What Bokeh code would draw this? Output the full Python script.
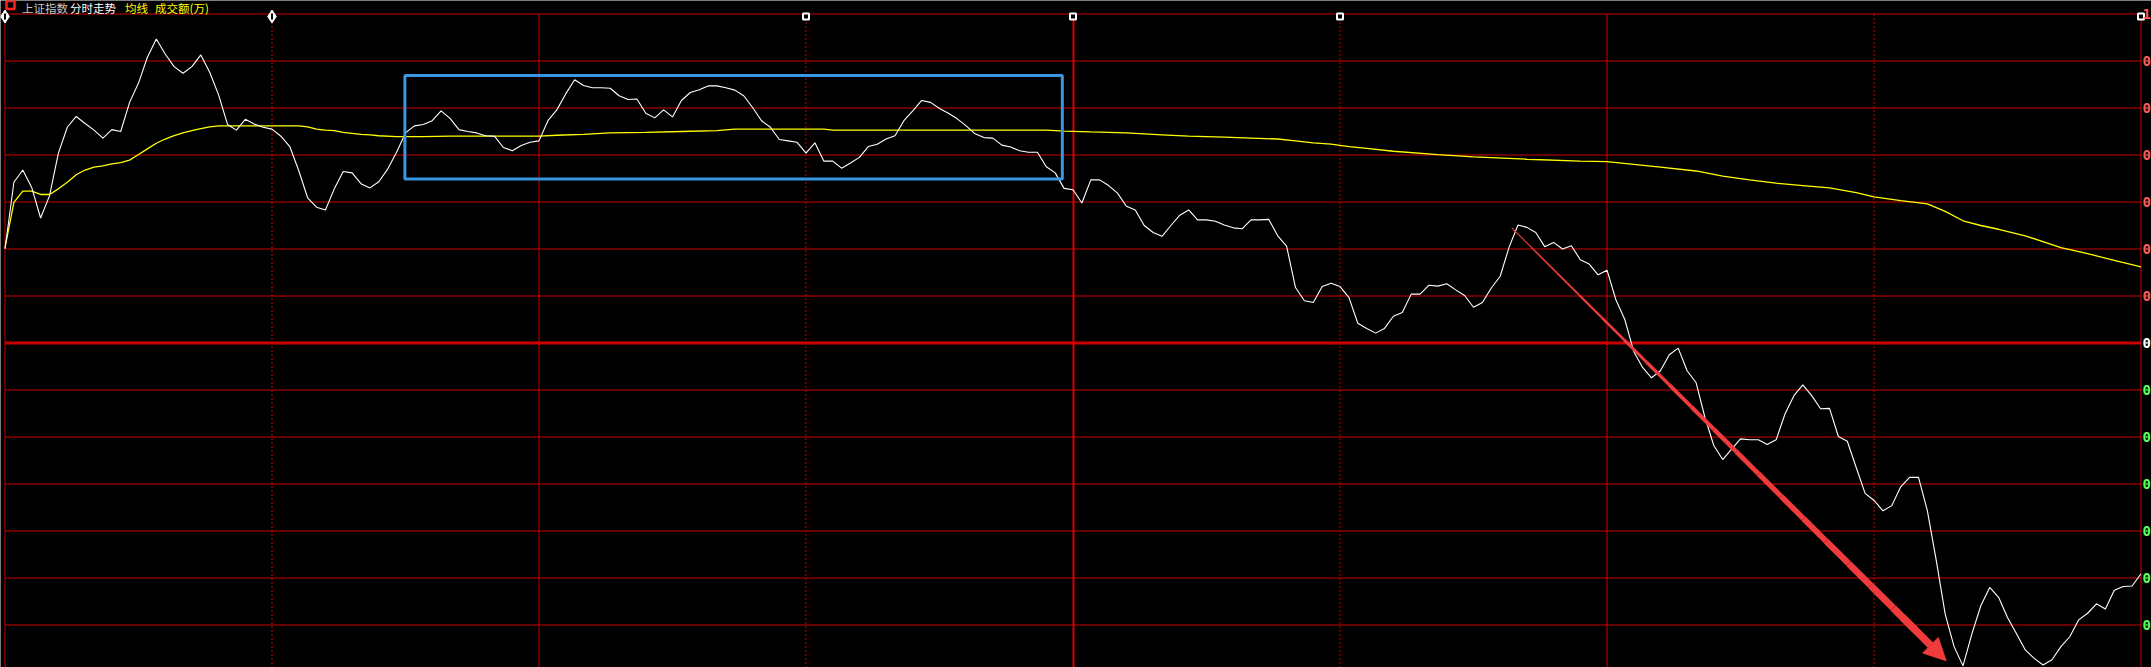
from bokeh.plotting import figure
from bokeh.models import Range1d, Arrow, NormalHead, ColumnDataSource
from bokeh.core.properties import value
from bokeh.embed import file_html
from bokeh.resources import INLINE

# ---------------- data ----------------
# intraday index line, one value per minute (0 = 9:30 ... 240 = 15:00),
# expressed in grid units above/below previous close
minutes = list(range(241))
index_line = [
    2.00, 3.42, 3.68, 3.31, 2.66, 3.13, 4.04, 4.59, 4.82, 4.67,
    4.53, 4.36, 4.54, 4.50, 5.12, 5.53, 6.08, 6.47, 6.15, 5.88,
    5.74, 5.88, 6.13, 5.76, 5.28, 4.65, 4.53, 4.76, 4.66, 4.59,
    4.55, 4.40, 4.18, 3.67, 3.09, 2.89, 2.83, 3.28, 3.65, 3.62,
    3.39, 3.30, 3.43, 3.70, 4.06, 4.47, 4.62, 4.65, 4.73, 4.94,
    4.78, 4.54, 4.50, 4.47, 4.41, 4.40, 4.16, 4.09, 4.20, 4.27,
    4.30, 4.73, 4.96, 5.30, 5.60, 5.48, 5.43, 5.43, 5.42, 5.26,
    5.18, 5.19, 4.89, 4.79, 4.96, 4.81, 5.16, 5.33, 5.39, 5.47,
    5.47, 5.43, 5.38, 5.26, 5.01, 4.73, 4.59, 4.33, 4.30, 4.27,
    4.04, 4.26, 3.87, 3.87, 3.72, 3.83, 3.95, 4.18, 4.23, 4.34,
    4.41, 4.73, 4.94, 5.16, 5.12, 4.99, 4.89, 4.77, 4.62, 4.45,
    4.37, 4.36, 4.21, 4.17, 4.09, 4.06, 4.06, 3.75, 3.62, 3.29,
    3.26, 2.98, 3.47, 3.47, 3.35, 3.19, 2.91, 2.83, 2.50, 2.35,
    2.27, 2.50, 2.72, 2.83, 2.62, 2.62, 2.59, 2.51, 2.45, 2.43,
    2.62, 2.62, 2.63, 2.28, 2.06, 1.18, 0.90, 0.86, 1.20, 1.27,
    1.20, 0.97, 0.42, 0.31, 0.21, 0.31, 0.57, 0.65, 1.04, 1.04,
    1.23, 1.21, 1.26, 1.13, 1.01, 0.76, 0.86, 1.17, 1.42, 2.04,
    2.51, 2.46, 2.35, 2.05, 2.14, 2.00, 2.07, 1.77, 1.68, 1.45,
    1.55, 0.92, 0.50, -0.18, -0.52, -0.74, -0.59, -0.25, -0.11, -0.59,
    -0.84, -1.58, -2.18, -2.48, -2.26, -2.04, -2.06, -2.06, -2.16, -2.06,
    -1.51, -1.12, -0.89, -1.12, -1.40, -1.39, -1.99, -2.09, -2.65, -3.20,
    -3.35, -3.57, -3.46, -3.06, -2.86, -2.86, -3.57, -4.63, -5.77, -6.46,
    -6.87, -6.19, -5.59, -5.20, -5.41, -5.84, -6.18, -6.53, -6.71, -6.85,
    -6.74, -6.46, -6.25, -5.89, -5.75, -5.55, -5.66, -5.26, -5.18, -5.17,
    -4.91,
]

# average price line (均线), read at its visible break points
avg_minutes = [0, 1, 2, 3, 4, 5, 6, 7, 8, 9, 10, 11, 12, 13, 14, 15, 16, 17, 18, 19,
               20, 21, 22, 23, 24, 33, 34, 35, 36, 37, 38, 39, 40, 41, 42,
               44, 47, 50, 60, 62, 65, 68, 72, 76, 80, 82, 92, 93,
               117, 119, 122, 126, 128, 130, 133, 137, 140, 143, 145, 147, 149, 151, 153, 156,
               161, 165, 171, 177, 180, 183, 186, 190, 193, 196, 199, 202, 205, 208, 210,
               213, 216, 218, 220, 222, 224, 227, 231, 234, 237, 240]
avg_values = [2.03, 2.99, 3.23, 3.23, 3.16, 3.16, 3.28, 3.42, 3.58, 3.68, 3.74, 3.77, 3.81, 3.84,
              3.89, 4.01, 4.13, 4.25, 4.34, 4.41, 4.47, 4.52, 4.56, 4.60, 4.62,
              4.62, 4.60, 4.55, 4.53, 4.52, 4.48, 4.46, 4.44, 4.43, 4.41,
              4.39, 4.39, 4.40, 4.40, 4.42, 4.44, 4.47, 4.48, 4.50, 4.52, 4.55, 4.55, 4.53,
              4.53, 4.51, 4.49, 4.47, 4.45, 4.43, 4.40, 4.38, 4.36, 4.34, 4.30, 4.26, 4.23,
              4.18, 4.14, 4.08,
              4.01, 3.96, 3.91, 3.87, 3.86, 3.80, 3.74, 3.66, 3.55, 3.47, 3.40, 3.35, 3.30,
              3.20, 3.11, 3.03, 2.96, 2.80, 2.60, 2.50, 2.42, 2.28, 2.03, 1.90, 1.76, 1.62]

grid_levels = [-6, -5, -4, -3, -2, -1, 1, 2, 3, 4, 5, 6]
right_levels = [7, 6, 5, 4, 3, 2, 1, 0, -1, -2, -3, -4, -5, -6]
right_texts = ["1", "0", "0", "0", "0", "0", "0", "0", "0", "0", "0", "0", "0", "0"]
solid_times = [60, 180]
dotted_times = [30, 90, 150, 210]
diamond_marks = [0, 30]
square_marks = [90, 120, 150, 240]

legend_texts = ["上证指数", "分时走势", "均线", "成交额(万)"]

# highlight box and trend arrow (annotations)
box_x = [44.93, 118.8]
box_y = [3.49, 5.69]
arrow_x = [169.3, 218.1]
arrow_y = [2.45, -6.76]

# ---------------- geometry ----------------
W, H = 2151, 667
X0_PX, PX_PER_MIN = 4.5, 8.9
Y0_PX, PX_PER_UNIT = 342.5, 47.0


def xpx(px):
    return (px - X0_PX) / PX_PER_MIN


def ypx(py):
    return (Y0_PX - py) / PX_PER_UNIT


RED = "#cc0000"

p = figure(width=W, height=H, title=None,
           x_range=Range1d(xpx(0), xpx(W)), y_range=Range1d(ypx(H), ypx(0)),
           output_backend="svg", toolbar_location=None,
           x_axis_location=None, y_axis_location=None,
           min_border=0, min_border_left=0, min_border_right=0,
           min_border_top=0, min_border_bottom=0,
           background_fill_color="black", border_fill_color="black",
           outline_line_color=None)
p.grid.visible = False

bottom = ypx(H + 5)

# horizontal grid
p.segment(x0=[0] * len(grid_levels), x1=[240] * len(grid_levels),
          y0=grid_levels, y1=grid_levels, line_color=RED, line_width=1)
p.segment(x0=[0], x1=[240], y0=[0], y1=[0], line_color=RED, line_width=3)
p.segment(x0=[xpx(0)], x1=[240], y0=[7], y1=[7], line_color=RED, line_width=1)

# vertical grid
p.segment(x0=[0, 240], x1=[0, 240], y0=[7, 7], y1=[bottom, bottom],
          line_color=RED, line_width=1)
p.segment(x0=solid_times, x1=solid_times, y0=[7] * 2, y1=[bottom] * 2,
          line_color=RED, line_width=1)
mid_x = 120 + 0.5 / PX_PER_MIN
p.segment(x0=[mid_x], x1=[mid_x], y0=[7], y1=[bottom], line_color="#d80000", line_width=2)
p.segment(x0=dotted_times, x1=dotted_times, y0=[7] * 4, y1=[bottom] * 4,
          line_color=RED, line_width=1, line_dash="2 2")

# lines
p.line(avg_minutes, avg_values, line_color="#ffff00", line_width=1.3)
p.line(minutes, index_line, line_color="#ffffff", line_width=1.1)

# highlight box
p.quad(left=[box_x[0]], right=[box_x[1]], bottom=[box_y[0]], top=[box_y[1]],
       fill_alpha=0, line_color="#3a96e0", line_width=3)

# tapered trend arrow
t_end = 0.93
n = 18
xs, ys, ws = [], [], []
for i in range(n):
    t0 = t_end * i / n
    t1 = t_end * (i + 1) / n
    xs.append([arrow_x[0] + (arrow_x[1] - arrow_x[0]) * t0,
               arrow_x[0] + (arrow_x[1] - arrow_x[0]) * t1])
    ys.append([arrow_y[0] + (arrow_y[1] - arrow_y[0]) * t0,
               arrow_y[0] + (arrow_y[1] - arrow_y[0]) * t1])
    ws.append(1 + 6.5 * ((t0 + t1) / 2) / t_end)
p.multi_line(xs=xs, ys=ys, line_width=ws, line_color="#ef3b3b")
ts = 0.9
p.add_layout(Arrow(x_start=arrow_x[0] + (arrow_x[1] - arrow_x[0]) * ts,
                   y_start=arrow_y[0] + (arrow_y[1] - arrow_y[0]) * ts,
                   x_end=arrow_x[1], y_end=arrow_y[1],
                   line_color="#ef3b3b", line_width=7.5,
                   end=NormalHead(size=22, fill_color="#ef3b3b", line_color="#ef3b3b")))

# top markers
top_y = 7 - 2.5 / PX_PER_UNIT
p.scatter(diamond_marks, [top_y] * len(diamond_marks), marker="diamond", size=13,
          fill_color="white", line_color="white")
p.scatter(diamond_marks, [top_y] * len(diamond_marks), marker="dash", angle=1.5708,
          size=6, line_color="black", line_width=2)
p.scatter(square_marks, [top_y] * len(square_marks), marker="square", size=6,
          fill_color="black", line_color="white", line_width=2)

# red icon top-left
p.scatter([xpx(10)], [ypx(4.5)], marker="square", size=8, fill_color="black",
          line_color="#ff2020", line_width=2.5)

# right-side labels
lab_colors = []
for lv in right_levels:
    lab_colors.append("#ff5a5a" if lv > 0 else ("#ffffff" if lv == 0 else "#5aff5a"))
src = ColumnDataSource(dict(x=[240] * len(right_levels), y=right_levels,
                            t=right_texts, c=lab_colors))
p.text(x="x", y="y", text="t", text_color="c", source=src, x_offset=1.5,
       text_align="left", text_baseline="middle", text_font_style="bold",
       text_font=value("DejaVu Sans Mono"), text_font_size="14px")

# legend text at top
leg_offsets = [17, 65, 120, 150]
leg_colors = ["#c8c8c8", "#ffffff", "#ffff00", "#ffff00"]
lsrc = ColumnDataSource(dict(x=[0] * 4, y=[7] * 4, t=legend_texts, c=leg_colors,
                             o=leg_offsets))
p.text(x="x", y="y", text="t", text_color="c", x_offset="o", y_offset=-6.2,
       source=lsrc, text_align="left", text_baseline="middle",
       text_font=value("Noto Sans CJK SC"), text_font_size="11.5px")

open("out.html", "w").write(file_html(p, INLINE))
